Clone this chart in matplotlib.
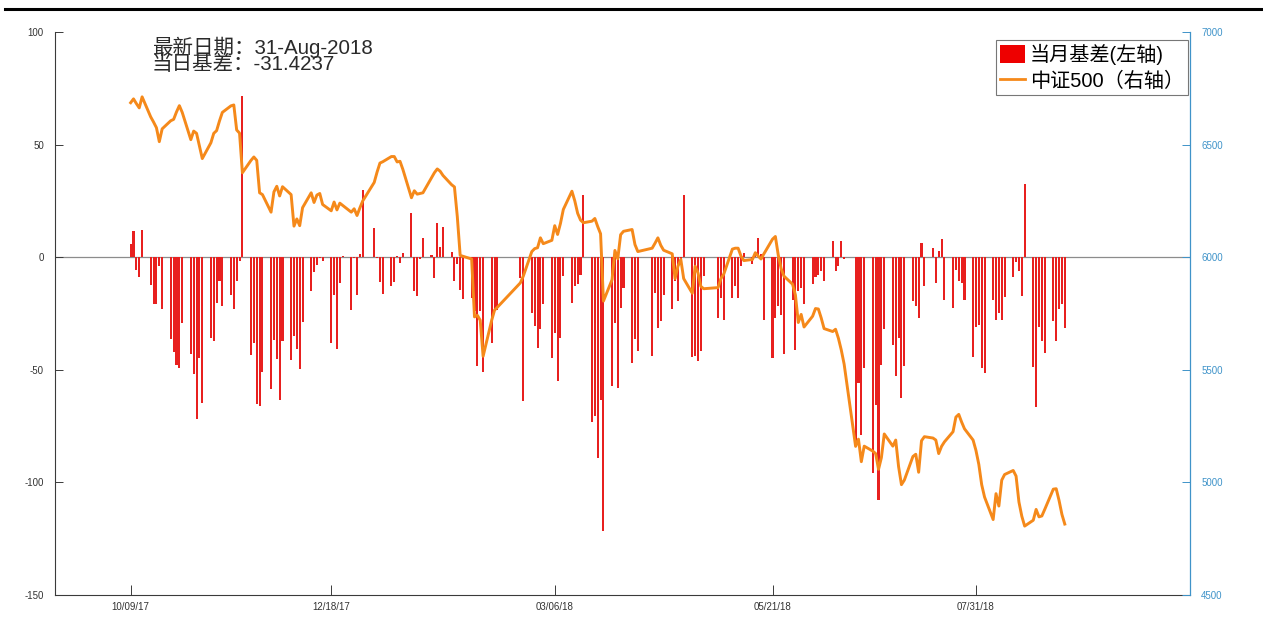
import matplotlib
matplotlib.use("Agg")
import matplotlib.pyplot as plt
import matplotlib.dates as mdates
from matplotlib.patches import Patch
from matplotlib.lines import Line2D
import pandas as pd

plt.rcParams['font.family'] = ['Liberation Sans', 'Noto Sans CJK SC', 'DejaVu Sans']
plt.rcParams['axes.unicode_minus'] = False

# ---- trading calendar ----
start_date = '2017-10-09'
end_date = '2018-08-31'
holidays = ['2018-01-01', '2018-02-15', '2018-02-16', '2018-02-19', '2018-02-20',
            '2018-02-21', '2018-04-05', '2018-04-06', '2018-04-30', '2018-05-01',
            '2018-06-18']
dates = pd.bdate_range(start_date, end_date).difference(pd.to_datetime(holidays))

# ---- 当月基差 (left axis) ----
basis = [
    5.9, 11.5, -5.5, -8.7, 12.3,            # Oct 9-13
    -12.4, -20.7, -20.7, -4.0, -23.2,       # Oct 16-20
    -36.3, -42.0, -48.0, -49.0, -29.2,      # Oct 23-27
    -43.2, -52.0, -71.8, -44.7, -64.7,      # Oct 30-Nov 3
    -35.8, -37.3, -20.3, -10.7, -21.5,      # Nov 6-10
    -17.0, -23.2, -10.4, -1.9, 71.6,        # Nov 13-17
    -43.5, -38.0, -65.4, -66.2, -51.0,      # Nov 20-24
    -58.5, -36.8, -45.0, -63.2, -37.3,      # Nov 27-Dec 1
    -45.7, -34.8, -40.7, -49.5, -28.9,      # Dec 4-8
    -15.1, -6.5, -3.4, -0.5, -1.9,          # Dec 11-15
    -37.9, -17.0, -40.9, -11.5, 0.5,        # Dec 18-22
    -23.4, -0.5, -16.7, 1.5, 29.9,          # Dec 25-29
    12.9, -0.5, -10.8, -16.3,               # Jan 2-5
    -13.0, -10.8, 0.6, -2.4, 1.8,           # Jan 8-12
    19.5, -15.2, -17.2, -0.9, 8.4,          # Jan 15-19
    0.9, -9.3, 15.1, 4.4, 13.2,             # Jan 22-26
    2.2, -10.4, -3.0, -14.5, -18.6,         # Jan 29-Feb 2
    -18.2, -24.1, -48.5, -24.1, -50.8,      # Feb 5-9
    -38.2, -23.7, -23.4,                    # Feb 12-14
    -9.2, -63.9,                            # Feb 22-23
    -24.7, -30.6, -40.3, -32.1, -21.0,      # Feb 26-Mar 2
    -44.7, -33.6, -55.0, -35.8, -8.4,       # Mar 5-9
    -20.3, -12.9, -12.1, -7.7, 27.8,        # Mar 12-16
    -73.3, -70.6, -89.1, -63.5, -121.7,     # Mar 19-23
    -57.0, -29.2, -58.0, -22.5, -13.6,      # Mar 26-30
    -46.9, -36.3, -41.7,                    # Apr 2-4
    -43.7, -15.8, -31.4, -28.4, -17.0,      # Apr 9-13
    -23.2, -10.7, -19.5, -3.0, 27.4,        # Apr 16-20
    -44.4, -44.0, -46.2, -41.7, -8.4,       # Apr 23-27
    -27.0, -18.0, -28.0,                    # May 2-4
    -18.0, -12.9, -18.0, -3.7, 2.0,         # May 7-11
    -3.0, 2.0, 8.6, 1.2, -27.7,             # May 14-18
    -44.7, -27.0, -21.8, -25.5, -42.8,      # May 21-25
    -18.8, -41.0, -15.1, -13.6, -21.0,      # May 28-Jun 1
    -11.8, -8.7, -8.1, -6.2, -10.4,         # Jun 4-8
    7.1, -6.2, -3.7, 7.4, -0.7,             # Jun 11-15
    -83.0, -56.0, -79.0, -49.0,             # Jun 19-22
    -96.0, -65.6, -108.0, -47.7, -32.0,     # Jun 25-29
    -38.8, -52.8, -35.8, -62.5, -48.4,      # Jul 2-6
    -19.5, -21.5, -27.2, 6.1, -12.9,        # Jul 9-13
    4.1, -11.4, 2.7, 8.3, -18.8,            # Jul 16-20
    -22.5, -5.5, -10.7, -11.4, -18.8,       # Jul 23-27
    -44.4, -31.0, -30.3, -49.4, -51.4,      # Jul 30-Aug 3
    -18.8, -27.7, -24.7, -27.7, -17.6,      # Aug 6-10
    -8.7, -2.0, -6.2, -17.3, 32.7,          # Aug 13-17
    -48.8, -66.6, -30.9, -37.3, -42.5,      # Aug 20-24
    -28.4, -37.3, -23.2, -21.0, -31.4237,   # Aug 27-31
]

# ---- 中证500 (right axis) ----
csi500 = [
    6686, 6703, 6682, 6663, 6712,
    6623, 6600, 6575, 6513, 6570,
    6606, 6612, 6645, 6673, 6643,
    6522, 6560, 6550, 6493, 6438,
    6508, 6550, 6562, 6605, 6643,
    6672, 6676, 6565, 6551, 6375,
    6430, 6445, 6430, 6286, 6278,
    6200, 6290, 6315, 6272, 6313,
    6278, 6138, 6170, 6140, 6220,
    6286, 6243, 6276, 6283, 6234,
    6206, 6245, 6210, 6240, 6230,
    6200, 6215, 6185, 6219, 6250,
    6332, 6378, 6418, 6424,
    6447, 6447, 6423, 6426, 6390,
    6264, 6295, 6280, 6283, 6286,
    6353, 6375, 6392, 6382, 6363,
    6322, 6312, 6180, 6008, 6004,
    5992, 5735, 5742, 5720, 5560,
    5720, 5765, 5778,
    5886, 5915,
    6025, 6038, 6042, 6086, 6060,
    6075, 6140, 6101, 6150, 6212,
    6293, 6250, 6195, 6165, 6153,
    6160, 6172, 6136, 6104, 5805,
    5900, 6030, 5993, 6100, 6115,
    6123, 6056, 6025,
    6040, 6062, 6086, 6053, 6031,
    6015, 5905, 5960, 5990, 5905,
    5840, 5960, 5930, 5870, 5860,
    5865, 5905, 5925,
    6036, 6040, 6040, 6005, 5985,
    5990, 6020, 6005, 5992, 6015,
    6080, 6092, 6010, 5950, 5916,
    5880, 5832, 5710, 5746, 5690,
    5738, 5772, 5770, 5730, 5683,
    5670, 5680, 5640, 5588, 5525,
    5160, 5192, 5092, 5161,
    5139, 5128, 5058, 5110, 5215,
    5161, 5188, 5070, 4990, 5010,
    5115, 5125, 5045, 5185, 5203,
    5197, 5188, 5128, 5160, 5180,
    5225, 5290, 5302, 5268, 5238,
    5188, 5142, 5080, 4990, 4935,
    4835, 4950, 4895, 5010, 5035,
    5053, 5028, 4913, 4850, 4806,
    4832, 4880, 4847, 4851, 4880,
    4970, 4972, 4920, 4858, 4815,
]

tick_dates = ['2017-10-09', '2017-12-18', '2018-03-06', '2018-05-21', '2018-07-31']
left_ticks = [-150, -100, -50, 0, 50, 100]
right_ticks = [4500, 5000, 5500, 6000, 6500, 7000]
latest_date_label = '31-Aug-2018'
latest_basis_label = '-31.4237'

# ---- styling ----
BAR_C = '#e8201f'
LINE_C = '#f5891a'
RIGHT_C = '#3f93c9'
AX_C = '#3a3a3a'

fig = plt.figure(figsize=(12.63, 6.27), dpi=100)
ax = fig.add_axes([55 / 1263, 1 - 595 / 627, 1135 / 1263, 563 / 627])

x0 = pd.Timestamp(start_date) - pd.Timedelta(days=26.4)
x1 = pd.Timestamp(start_date) + pd.Timedelta(days=369.7)

ax.bar(dates, basis, width=0.72, color=BAR_C, linewidth=0, zorder=2)
ax.axhline(0, color='#8c8c8c', lw=0.9, zorder=1)
ax.set_xlim(x0, x1)
ax.set_ylim(-150, 100)
ax.set_yticks(left_ticks)
ax.set_xticks(pd.to_datetime(tick_dates))
ax.xaxis.set_major_formatter(mdates.DateFormatter('%m/%d/%y'))

ax2 = ax.twinx()
ax2.plot(dates, csi500, color=LINE_C, lw=2.1, zorder=3)
ax2.set_ylim(4500, 7000)
ax2.set_yticks(right_ticks)
ax2.set_xlim(x0, x1)

for a in (ax, ax2):
    a.spines['top'].set_visible(False)
ax.spines['right'].set_visible(False)
ax.spines['left'].set_color(AX_C)
ax.spines['bottom'].set_color(AX_C)
ax.spines['left'].set_linewidth(0.8)
ax.spines['bottom'].set_linewidth(0.8)
ax2.spines['left'].set_visible(False)
ax2.spines['bottom'].set_visible(False)
ax2.spines['right'].set_color(RIGHT_C)
ax2.spines['right'].set_linewidth(0.9)

ax.tick_params(axis='y', direction='in', length=6, width=0.7, colors=AX_C,
               labelsize=7, pad=8, labelcolor='#333333')
ax.tick_params(axis='x', direction='in', length=7, width=0.7, colors=AX_C,
               labelsize=7, pad=5, labelcolor='#333333')
ax2.tick_params(axis='y', direction='in', length=6, width=0.7, colors=RIGHT_C,
                labelsize=7, pad=8, labelcolor=RIGHT_C)

# header text (two tightly spaced lines, as in the reference)
ax.text(0.0855, 0.959,
        '最新日期：' + latest_date_label + '\n' + '当日基差：' + latest_basis_label,
        transform=ax.transAxes, fontsize=14.8, color='#2a2a2a',
        va='center', ha='left', linespacing=0.8, zorder=5)

# legend
handles = [Patch(facecolor='#ee0000', edgecolor='none'),
           Line2D([0], [0], color=LINE_C, lw=2.0)]
labels = ['当月基差(左轴)', '中证500（右轴）']
leg = ax2.legend(handles, labels, loc='upper right', bbox_to_anchor=(0.998, 0.986),
                 borderaxespad=0, fontsize=14.5, frameon=True, fancybox=False,
                 edgecolor='#555555', handlelength=1.2, handleheight=1.0,
                 handletextpad=0.25, borderpad=0.2, labelspacing=0.3)
leg.get_frame().set_linewidth(0.8)

# top rule
fig.add_artist(Line2D([5 / 1263, 1.0], [1 - 8.5 / 627, 1 - 8.5 / 627],
                      transform=fig.transFigure, color='black', lw=2.2))

fig.savefig('out.png', dpi=100, facecolor='white')
